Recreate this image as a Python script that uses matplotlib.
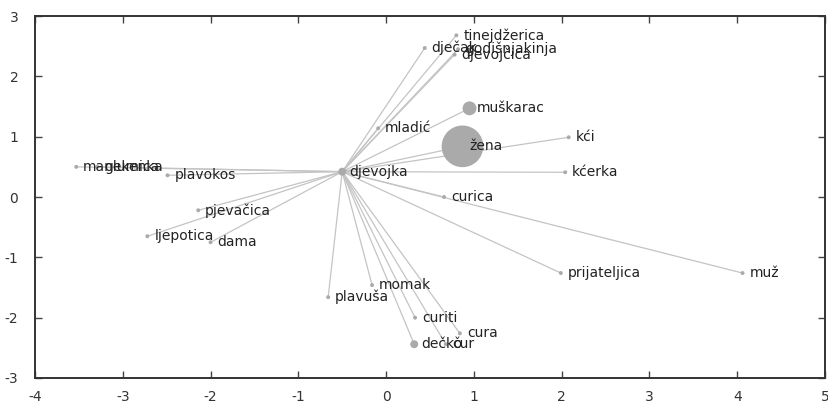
import numpy as np
import matplotlib
matplotlib.use("Agg")
import matplotlib.pyplot as plt

plt.rcParams["axes.unicode_minus"] = False

# centre word and its neighbours (2d projection of word vectors)
centre = "djevojka"
centre_xy = (-0.5, 0.42)

words = ["tinejdžerica", "dječak", "djevojčica", "godišnjakinja", "muškarac",
         "mladić", "žena", "kći", "kćerka", "curica", "muž", "prijateljica",
         "momak", "plavuša", "curiti", "cura", "čur", "dečko", "pjevačica",
         "ljepotica", "dama", "plavokos", "manekenka", "glumica"]
xs = [0.80, 0.44, 0.78, 0.82, 0.95, -0.09, 0.87, 2.08, 2.04, 0.66, 4.06, 1.99,
      -0.16, -0.66, 0.33, 0.84, 0.68, 0.32, -2.14, -2.72, -2.00, -2.49, -3.53, -3.29]
ys = [2.68, 2.47, 2.36, 2.45, 1.47, 1.14, 0.84, 0.99, 0.41, 0.00, -1.26, -1.26,
      -1.46, -1.66, -2.00, -2.26, -2.44, -2.44, -0.22, -0.65, -0.75, 0.36, 0.50, 0.50]
sizes = [8, 8, 8, 8, 100, 8, 900, 8, 8, 8, 8, 8,
         8, 8, 8, 8, 8, 33, 8, 8, 8, 8, 8, 8]

fig = plt.figure(figsize=(8.29, 4.09), dpi=100)
ax = fig.add_axes([0.0422, 0.0758, 0.953, 0.885])

for x, y in zip(xs, ys):
    ax.plot([centre_xy[0], x], [centre_xy[1], y], color="#c4c4c4", lw=0.9, zorder=1)

ax.scatter(xs, ys, s=sizes, color="#aaaaaa", edgecolors="none", zorder=2)
ax.scatter([centre_xy[0]], [centre_xy[1]], s=33, color="#aaaaaa", edgecolors="none", zorder=2)

for w, x, y in zip(words, xs, ys):
    ax.annotate(w, (x, y), xytext=(5, 0), textcoords="offset points",
                va="center", ha="left", fontsize=10, color="#222222", zorder=3)
ax.annotate(centre, centre_xy, xytext=(5, 0), textcoords="offset points",
            va="center", ha="left", fontsize=10, color="#222222", zorder=3)

ax.set_xlim(-4, 5)
ax.set_ylim(-3, 3)
ax.set_xticks(np.arange(-4, 6, 1))
ax.set_yticks(np.arange(-3, 4, 1))
ax.tick_params(direction="in", top=True, right=True, length=5, width=1,
               color="#444444", labelsize=10, labelcolor="#333333")
ax.tick_params(axis="x", pad=9)
ax.tick_params(axis="y", pad=12)
for s in ax.spines.values():
    s.set_color("#333333")
    s.set_linewidth(1.4)

fig.savefig("out.png", dpi=100)
